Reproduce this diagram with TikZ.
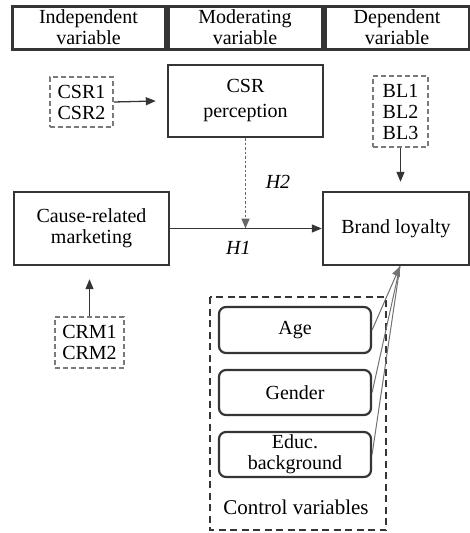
\documentclass[tikz,border=0pt]{standalone}
\usepackage{fontspec}
\setmainfont{Liberation Serif}
\usetikzlibrary{arrows.meta}
\definecolor{boxline}{HTML}{353535}
\definecolor{dashline}{HTML}{7A7A7A}
\tikzset{
  txt/.style={font=\fontsize{20}{21}\selectfont, align=center, text=black},
  header/.style={txt, draw=boxline, line width=3pt, minimum height=43pt, inner sep=0pt},
  mainbox/.style={txt, draw=boxline, line width=2.4pt, minimum height=73pt, inner sep=0pt},
  itembox/.style={txt, draw=dashline, line width=1.6pt, dash pattern=on 5pt off 3pt, inner sep=0pt},
  ctrlbox/.style={txt, draw=boxline, line width=2.2pt, rounded corners=7pt, minimum width=152pt, minimum height=45pt, inner sep=0pt},
  tip/.style={-{Triangle[length=10pt,width=8pt]}},
  conn/.style={draw=boxline, line width=1.3pt, tip},
  thinline/.style={draw=black!55, line width=1pt},
  hyp/.style={font=\fontsize{20}{21}\selectfont\itshape, text=black}
}
\begin{document}
\begin{tikzpicture}[x=1pt,y=1pt]
\useasboundingbox (0,0) rectangle (470,-533);
% headers
\node[header, minimum width=153pt] (h1) at (88.5,-27.5) {Independent\\variable};
\node[header, minimum width=154pt] (h2) at (245,-27.5) {Moderating\\variable};
\node[header, minimum width=144pt] (h3) at (397,-27.5) {Dependent\\variable};
% items
\node[itembox, minimum width=63pt, minimum height=50pt] (csri) at (81.5,-102) {CSR1\\CSR2};
\node[itembox, minimum width=55pt, minimum height=71pt] (bli) at (400.5,-111.5) {BL1\\BL2\\BL3};
\node[itembox, minimum width=69pt, minimum height=51pt] (crmi) at (89.5,-342.5) {CRM1\\CRM2};
% main boxes
\node[mainbox, minimum width=155pt, minimum height=72pt, font=\fontsize{20}{25}\selectfont] (csrp) at (245.5,-101) {CSR\\perception};
\node[mainbox, minimum width=155pt] (crm) at (91.5,-228.5) {Cause-related\\marketing};
\node[mainbox, minimum width=146pt] (bl) at (396,-228.5) {Brand loyalty};
% control variables
\draw[draw=boxline, line width=2.6pt, dash pattern=on 7pt off 4.5pt] (210,-297) rectangle (386,-530);
\node[ctrlbox, minimum height=46pt] (age) at (295,-330) {Age};
\node[ctrlbox] (gender) at (295,-392.5) {Gender};
\node[ctrlbox] (educ) at (295,-454.5) {Educ.\\background};
\node[txt, font=\fontsize{21}{22}\selectfont] (ctrl) at (296,-507) {Control variables};
% connectors
\draw[conn] (csri.east) -- ([xshift=-11pt]csrp.west);
\draw[conn] (bli.south) -- ([yshift=9pt]bl.north -| bli.south);
\draw[conn] (crmi.north) -- ([yshift=-13pt]crm.south -| crmi.north);
\draw[conn] (crm.east) -- (bl.west) node[pos=0.45, below=9pt, hyp] (lh1) {H1};
\coordinate (mid) at (csrp.south |- crm.east);
\draw[conn, draw=black!60, dash pattern=on 2.5pt off 2pt, line width=1.8pt] (csrp.south) -- (mid);
\node[hyp] (lh2) at (278,-182) {H2};
\coordinate (conv) at ([xshift=4pt]bl.south);
\draw[thinline] (gender.east) -- (conv);
\draw[thinline] (educ.east) -- (conv);
\draw[thinline, tip, fill=black] (age.east) -- (conv);
\end{tikzpicture}
\end{document}
